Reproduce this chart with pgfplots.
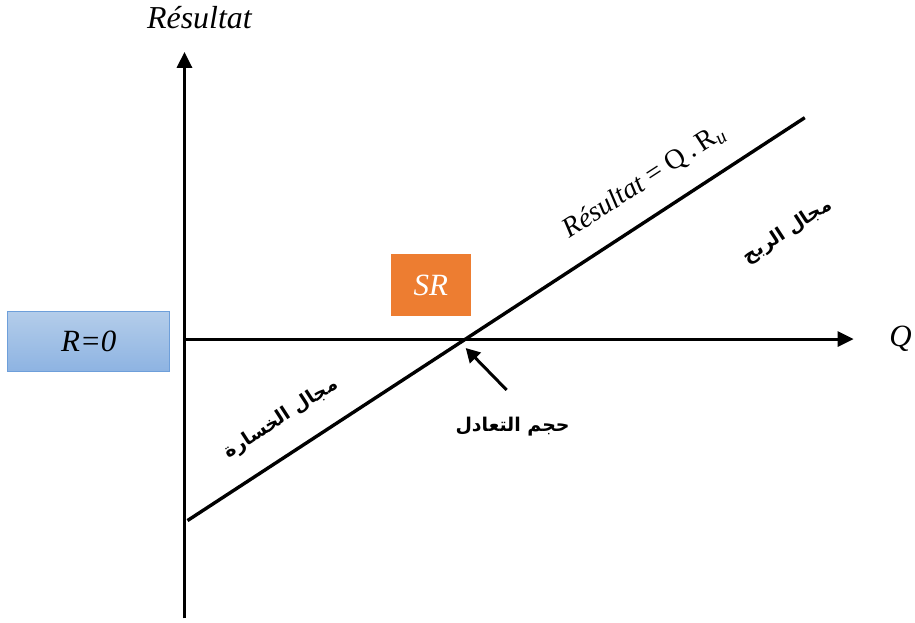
\documentclass[border=0pt]{standalone}
\usepackage{fontspec}
\setmainfont{Liberation Serif}
\newfontfamily\arabicfont[Script=Arabic]{DejaVu Sans}
\TeXXeTstate=1
\usepackage{pgfplots}
\pgfplotsset{compat=1.18}
\usetikzlibrary{arrows.meta,shadings}
\definecolor{srorange}{HTML}{ED7D31}
\definecolor{boxtop}{HTML}{B4CDEA}
\definecolor{boxbot}{HTML}{8DB3E2}
\definecolor{boxedge}{HTML}{6E9FDA}
\begin{document}
\begin{tikzpicture}
\begin{axis}[hide axis, x=1pt, y=1pt, xmin=0, xmax=915, ymin=0, ymax=624,
  y dir=reverse, clip=false, scale only axis]
\path (axis cs:0,0) rectangle (axis cs:915,624);
% axes
\draw[line width=3pt, -{Triangle[length=16pt,width=15pt]}] (axis cs:185,620) -- (axis cs:185,52);
\draw[line width=3pt, -{Triangle[length=16pt,width=15pt]}] (axis cs:185,340) -- (axis cs:856,340);
% result line
\addplot[line width=3.4pt, black, no marks] coordinates {(188,522) (807,118)};
% arrow to break-even
\draw[line width=3pt, -{Triangle[length=14pt,width=15pt]}] (axis cs:508,391) -- (axis cs:467,349);
% labels
\node[font=\fontsize{32}{34}\selectfont\itshape] at (axis cs:200,18) {Résultat};
\node[font=\fontsize{31}{33}\selectfont\itshape] at (axis cs:903,340) {Q};
\node[font=\fontsize{28}{30}\selectfont, rotate=33] at (axis cs:646,182) {\textit{Résultat} = Q\,.\,R\textsubscript{\textit{u}}};
% boxes
\draw[draw=boxedge, line width=1pt, top color=boxtop, bottom color=boxbot] (axis cs:8,312) rectangle (axis cs:170,373);
\node[font=\fontsize{31}{33}\selectfont\itshape] at (axis cs:89,342.5) {R=0};
\fill[srorange] (axis cs:392,255) rectangle (axis cs:472,317);
\node[font=\fontsize{31}{33}\selectfont\itshape, text=white] at (axis cs:432,286) {SR};
% arabic labels
\node[font=\arabicfont\bfseries\fontsize{19}{21}\selectfont] at (axis cs:514,428) {\beginR حجم التعادل\endR};
\node[font=\arabicfont\bfseries\fontsize{19}{21}\selectfont, rotate=33] at (axis cs:282,420) {\beginR مجال الخسارة\endR};
\node[font=\arabicfont\bfseries\fontsize{19}{21}\selectfont, rotate=33] at (axis cs:790,232) {\beginR مجال الربح\endR};
\end{axis}
\end{tikzpicture}
\end{document}
